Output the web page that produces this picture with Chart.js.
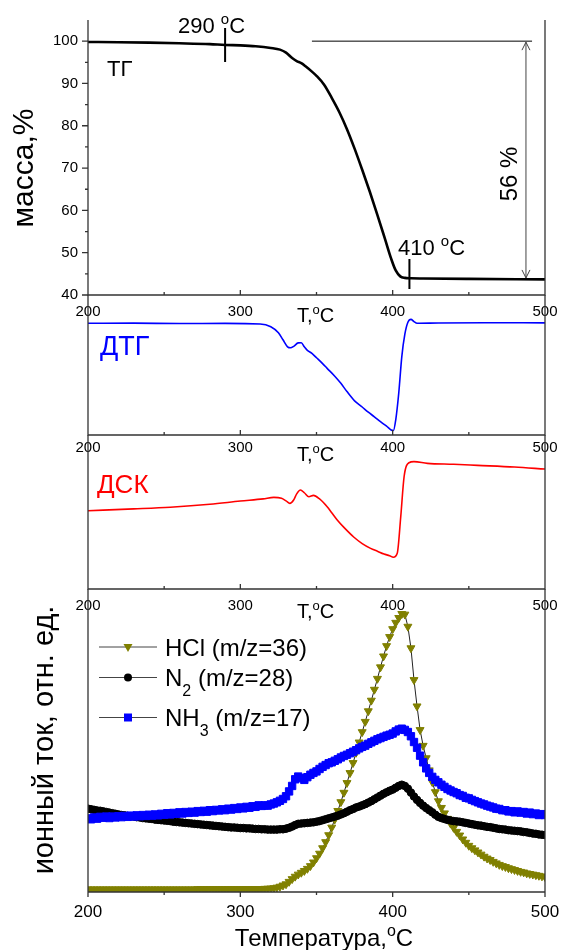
<!DOCTYPE html>
<html lang="ru">
<head>
<meta charset="UTF-8">
<title>ТГ / ДТГ / ДСК / МС</title>
<script src="https://cdn.jsdelivr.net/npm/chart.js@4.4.1/dist/chart.umd.min.js"></script>
<style>
  html, body { margin: 0; padding: 0; background: #fff; }
  #wrap { position: relative; width: 561px; height: 950px; }
  #wrap canvas { position: absolute; left: 0; top: 0; }
</style>
</head>
<body>
<div id="wrap">
  <canvas id="tg" width="561" height="950"></canvas>
  <canvas id="dtg" width="561" height="950"></canvas>
  <canvas id="dsc" width="561" height="950"></canvas>
  <canvas id="ms" width="561" height="950"></canvas>
</div>
<script>
const FONT = '"Liberation Sans", Arial, Helvetica, sans-serif'
const W = 561, H = 950, LEFT = 88, RIGHT = 545

// axis ticks
const xTicks = [200, 300, 400, 500]
const xMinor = [250, 350, 450]
const tgTicks = [40, 50, 60, 70, 80, 90, 100]
const tgMinor = [45, 55, 65, 75, 85, 95]

// TG, mass %
const tgTemp = [200, 220, 240, 260, 280, 290, 300, 310, 320, 326, 330, 334, 337, 340, 343, 347, 350, 355, 360, 365,
  370, 375, 380, 385, 390, 395, 399, 402, 405, 408, 412, 420, 450, 500]
const tgMass = [99.8, 99.75, 99.65, 99.5, 99.3, 99.1, 99.0, 98.8, 98.4, 98.0, 97.3, 96.0, 95.3, 94.8, 94.0, 92.8, 91.8, 89.7, 86.6, 83.2,
  79.2, 74.6, 69.6, 64.4, 58.9, 53.2, 48.6, 45.8, 44.4, 44.05, 43.95, 43.9, 43.8, 43.7]

// DTG, rel. units
const dtgTemp = [200, 230, 260, 290, 313, 320, 325, 328, 331, 333, 335, 338, 340, 342, 344, 347, 350, 354, 357, 362,
  366, 370, 375, 380, 384, 388, 392, 396, 399, 400.5, 402, 404, 406, 408, 410, 412, 414, 416, 430, 460, 500]
const dtgVal = [79.8, 79.9, 79.6, 79.7, 79.3, 77.3, 73, 68, 63, 62.3, 63.3, 65.8, 65.9, 63, 60.5, 58.3, 55.2, 51, 47.6, 42,
  36.9, 31, 24.4, 20, 16.3, 13, 9.5, 6.3, 3.6, 3.2, 10.7, 30, 56, 72, 80.5, 82.6, 81, 79.8, 80, 80.2, 80.1]

// DSC, rel. units
const dscTemp = [200, 230, 254, 280, 300, 315, 322, 327, 330, 332.5, 335, 337, 339.5, 342, 345, 348, 352, 357, 360, 363.6,
  368, 374.6, 380, 385.5, 390, 394.3, 398, 400.4, 403, 405.3, 407.5, 410.7, 414, 422.8, 440, 455.7, 480, 500]
const dscVal = [50.8, 52.0, 53.1, 55.0, 57.1, 58.5, 59.5, 58.9, 57.2, 55.6, 57.8, 61.8, 64.3, 62.5, 59.9, 60.8, 58.5, 53.4, 49.5, 44.8,
  40, 33.6, 29.5, 26.4, 24.5, 22.7, 21.6, 20.6, 23.2, 46.9, 72.9, 82, 82.7, 81.6, 81, 80.3, 79.2, 77.9]

// MS ion current, rel. units (every 2 degC)
const msTemp = [
  200, 202, 204, 206, 208, 210, 212, 214, 216, 218, 220, 222, 224, 226, 228, 230, 232, 234, 236, 238,
  240, 242, 244, 246, 248, 250, 252, 254, 256, 258, 260, 262, 264, 266, 268, 270, 272, 274, 276, 278,
  280, 282, 284, 286, 288, 290, 292, 294, 296, 298, 300, 302, 304, 306, 308, 310, 312, 314, 316, 318,
  320, 322, 324, 326, 328, 330, 332, 334, 336, 338, 340, 342, 344, 346, 348, 350, 352, 354, 356, 358,
  360, 362, 364, 366, 368, 370, 372, 374, 376, 378, 380, 382, 384, 386, 388, 390, 392, 394, 396, 398,
  400, 402, 404, 406, 408, 410, 412, 414, 416, 418, 420, 422, 424, 426, 428, 430, 432, 434, 436, 438,
  440, 442, 444, 446, 448, 450, 452, 454, 456, 458, 460, 462, 464, 466, 468, 470, 472, 474, 476, 478,
  480, 482, 484, 486, 488, 490, 492, 494, 496, 498, 500]
const hclVal = [
  0.9, 0.9, 0.9, 0.9, 0.9, 0.9, 0.9, 0.9, 0.9, 0.9, 0.9, 0.9, 0.9, 0.9, 0.9, 0.9, 0.9, 0.9, 0.9, 0.9,
  0.9, 0.9, 0.9, 0.9, 0.9, 0.9, 0.9, 0.9, 0.9, 0.9, 0.9, 0.9, 0.9, 0.9, 0.9, 0.9, 1.0, 1.0, 1.0, 1.0,
  1.0, 1.0, 1.0, 1.0, 1.0, 1.0, 1.0, 1.0, 1.0, 1.0, 1.0, 1.0, 1.0, 1.0, 1.0, 1.0, 1.0, 1.05, 1.1, 1.15,
  1.2, 1.3, 1.5, 1.8, 2.2, 2.6, 3.4, 4.3, 5.1, 5.8, 6.4, 7.0, 7.7, 8.6, 9.8, 11.2, 12.7, 14.5, 16.5, 18.8,
  21.3, 24.0, 26.8, 29.7, 32.8, 36.0, 39.3, 42.6, 46.0, 49.4, 52.8, 56.2, 59.7, 63.2, 66.8, 70.4, 74.2, 77.8, 81.2, 84.2,
  86.8, 88.9, 90.5, 91.8, 91.6, 87.6, 80.5, 70.0, 61.3, 53.5, 48.3, 44.2, 40.2, 36.3, 33.0, 30.0, 27.8, 26.0, 24.2, 22.6,
  21.2, 19.9, 18.7, 17.4, 16.3, 15.3, 14.5, 13.8, 13.1, 12.4, 11.7, 11.1, 10.6, 10.0, 9.5, 9.0, 8.6, 8.3, 7.9, 7.6,
  7.3, 7.0, 6.7, 6.5, 6.2, 6.0, 5.8, 5.6, 5.4, 5.2, 5.0]
const n2Val = [
  27.5, 27.3, 27.1, 26.9, 26.8, 26.6, 26.4, 26.2, 26.0, 25.8, 25.6, 25.4, 25.3, 25.1, 25.0, 24.9, 24.7, 24.6, 24.4, 24.3,
  24.2, 24.1, 23.9, 23.8, 23.7, 23.6, 23.5, 23.4, 23.2, 23.1, 23.0, 22.9, 22.8, 22.7, 22.6, 22.5, 22.4, 22.3, 22.2, 22.1,
  22.0, 21.9, 21.8, 21.7, 21.6, 21.5, 21.4, 21.3, 21.3, 21.2, 21.1, 21.1, 21.0, 21.0, 20.9, 20.8, 20.8, 20.7, 20.7, 20.6,
  20.6, 20.6, 20.6, 20.7, 20.7, 20.9, 21.2, 21.6, 22.1, 22.5, 22.6, 22.7, 22.8, 22.9, 23.0, 23.2, 23.4, 23.7, 24.0, 24.3,
  24.6, 24.9, 25.2, 25.6, 26.0, 26.5, 27.0, 27.4, 27.9, 28.2, 28.6, 29.0, 29.5, 30.0, 30.6, 31.2, 31.8, 32.4, 32.9, 33.4,
  33.8, 34.4, 35.0, 35.4, 35.0, 34.1, 32.8, 31.5, 30.4, 29.4, 28.5, 27.7, 27.0, 26.3, 25.5, 24.8, 24.4, 24.1, 23.8, 23.6,
  23.4, 23.3, 23.2, 23.0, 22.8, 22.6, 22.4, 22.2, 22.0, 21.9, 21.7, 21.5, 21.4, 21.2, 21.0, 20.8, 20.7, 20.6, 20.4, 20.3,
  20.2, 20.1, 20.0, 19.8, 19.7, 19.5, 19.3, 19.2, 19.0, 18.9, 18.8]
const nh3Val = [
  24.3, 24.0, 24.6, 24.2, 24.8, 24.5, 24.9, 24.4, 24.9, 24.6, 25.0, 24.7, 25.1, 24.8, 25.2, 24.9, 25.3, 25.0, 25.4, 25.1,
  25.5, 25.2, 25.6, 25.3, 25.8, 25.5, 26.0, 25.6, 26.1, 25.8, 26.3, 25.9, 26.4, 26.1, 26.5, 26.2, 26.7, 26.4, 26.8, 26.5,
  27.0, 26.7, 27.1, 26.9, 27.3, 27.0, 27.5, 27.2, 27.7, 27.4, 27.9, 27.6, 28.1, 27.8, 28.3, 28.1, 28.6, 28.4, 28.6, 28.5,
  28.9, 29.2, 29.6, 30.1, 30.7, 31.6, 33.2, 35.0, 37.2, 38.1, 37.6, 37.0, 37.9, 38.7, 39.3, 39.8, 40.6, 41.3, 41.9, 42.5,
  42.8, 43.3, 43.8, 44.4, 44.9, 45.3, 45.8, 46.3, 46.8, 47.4, 47.9, 48.3, 48.9, 49.4, 49.9, 50.4, 50.8, 51.2, 51.6, 51.9,
  52.3, 53.0, 53.6, 53.9, 53.5, 52.8, 51.4, 49.5, 47.6, 45.0, 42.8, 40.8, 39.3, 38.0, 37.0, 36.2, 35.4, 34.7, 34.0, 33.5,
  33.0, 32.6, 32.0, 31.7, 31.1, 30.9, 30.4, 30.0, 29.6, 29.2, 28.9, 28.5, 28.2, 27.9, 27.5, 27.4, 27.0, 27.0, 26.6, 26.7,
  26.3, 26.6, 26.2, 26.4, 25.9, 26.2, 25.7, 25.9, 25.4, 25.7, 25.4]

const pts = (xs, ys) => xs.map((x, i) => ({ x, y: ys[i] }))

// text with sup/sub parts: [[text, ''|'sup'|'sub'], ...]
function rich(ctx, parts, x, y, size, align, color) {
  const sm = Math.round(size * 0.66)
  ctx.textAlign = 'left'
  ctx.textBaseline = 'alphabetic'
  ctx.fillStyle = color || '#000'
  const ws = parts.map(p => { ctx.font = (p[1] ? sm : size) + 'px ' + FONT; return ctx.measureText(p[0]).width })
  const tot = ws.reduce((s, w) => s + w, 0)
  let cx = align === 'center' ? x - tot / 2 : x
  parts.forEach((p, i) => {
    ctx.font = (p[1] ? sm : size) + 'px ' + FONT
    const dy = p[1] === 'sup' ? -size * 0.4 : p[1] === 'sub' ? size * 0.42 : 0
    ctx.fillText(p[0], cx, y + dy)
    cx += ws[i]
  })
}

function vtext(ctx, txt, x, y, size) {
  ctx.save()
  ctx.translate(x, y)
  ctx.rotate(-Math.PI / 2)
  ctx.font = size + 'px ' + FONT
  ctx.fillStyle = '#000'
  ctx.textAlign = 'center'
  ctx.textBaseline = 'alphabetic'
  ctx.fillText(txt, 0, 0)
  ctx.restore()
}

const degC = [['o', 'sup'], ['C', '']]

// left/right/bottom axes, x ticks and labels
function frame(chart, o) {
  const { ctx, chartArea: a, scales: { x } } = chart
  ctx.save()
  ctx.strokeStyle = '#333'
  ctx.lineWidth = 1.3
  ctx.beginPath()
  ctx.moveTo(a.left, a.top)
  ctx.lineTo(a.left, a.bottom)
  ctx.lineTo(a.right, a.bottom)
  ctx.lineTo(a.right, a.top)
  const dir = o.outTicks ? 1 : -1
  xTicks.forEach(v => { const p = x.getPixelForValue(v); ctx.moveTo(p, a.bottom); ctx.lineTo(p, a.bottom + dir * 5) })
  xMinor.forEach(v => { const p = x.getPixelForValue(v); ctx.moveTo(p, a.bottom); ctx.lineTo(p, a.bottom + dir * 3) })
  ctx.stroke()
  ctx.fillStyle = '#000'
  ctx.font = o.tickSize + 'px ' + FONT
  ctx.textAlign = 'center'
  ctx.textBaseline = 'middle'
  xTicks.forEach(v => ctx.fillText(String(v), x.getPixelForValue(v), a.bottom + o.labelGap))
  if (o.titleBase) rich(ctx, [['T,', '']].concat(degC), (a.left + a.right) / 2 - 1, o.titleBase, 20, 'center')
  ctx.restore()
}

function panel(id, top, bottom, yMin, yMax, datasets, deco) {
  return new Chart(document.getElementById(id), {
    type: 'scatter',
    data: { datasets },
    options: {
      responsive: false,
      animation: false,
      events: [],
      layout: { padding: { left: LEFT, right: W - RIGHT, top, bottom: H - bottom } },
      scales: {
        x: { type: 'linear', min: 200, max: 500, display: false },
        y: { type: 'linear', min: yMin, max: yMax, display: false }
      },
      plugins: { legend: { display: false }, tooltip: { enabled: false } }
    },
    plugins: [{ id: 'deco_' + id, afterDraw: deco }]
  })
}

const curve = (data, color, width) => ({
  data, showLine: true, borderColor: color, borderWidth: width,
  pointRadius: 0, cubicInterpolationMode: 'monotone'
})

// ---- ТГ
panel('tg', 20, 295, 40, 105, [curve(pts(tgTemp, tgMass), '#000', 2.6)], chart => {
  const { ctx, chartArea: a, scales: { x, y } } = chart
  frame(chart, { tickSize: 15, labelGap: 17, titleBase: 322 })
  ctx.save()
  ctx.strokeStyle = '#333'
  ctx.lineWidth = 1.3
  ctx.beginPath()
  tgTicks.forEach(v => { const p = y.getPixelForValue(v); ctx.moveTo(a.left, p); ctx.lineTo(a.left - 6, p) })
  tgMinor.forEach(v => { const p = y.getPixelForValue(v); ctx.moveTo(a.left, p); ctx.lineTo(a.left - 3, p) })
  ctx.stroke()
  ctx.fillStyle = '#000'
  ctx.font = '15px ' + FONT
  ctx.textAlign = 'right'
  ctx.textBaseline = 'middle'
  tgTicks.forEach(v => ctx.fillText(String(v), a.left - 10, y.getPixelForValue(v)))
  vtext(ctx, 'масса,%', 33, 168, 30)
  rich(ctx, [['ТГ', '']], 107, 76, 22)

  // onset / end markers
  ctx.strokeStyle = '#000'
  ctx.lineWidth = 2
  ctx.beginPath()
  const p290 = x.getPixelForValue(290), p410 = x.getPixelForValue(411)
  ctx.moveTo(p290, 28); ctx.lineTo(p290, 62)
  ctx.moveTo(p410, 259); ctx.lineTo(p410, 289)
  ctx.stroke()
  rich(ctx, [['290 ', '']].concat(degC), 178, 33, 22)
  rich(ctx, [['410 ', '']].concat(degC), 398, 255, 22)

  // mass loss bracket
  const y100 = y.getPixelForValue(100), yEnd = y.getPixelForValue(43.8)
  const ax = x.getPixelForValue(487.5)
  ctx.lineWidth = 1
  ctx.strokeStyle = '#000'
  ctx.beginPath()
  ctx.moveTo(x.getPixelForValue(347), y100); ctx.lineTo(x.getPixelForValue(491.5), y100)
  ctx.stroke()
  ctx.strokeStyle = '#444'
  ctx.beginPath()
  ctx.moveTo(ax, y100 + 1); ctx.lineTo(ax, yEnd - 1)
  ctx.moveTo(ax - 4, y100 + 9); ctx.lineTo(ax, y100 + 1); ctx.lineTo(ax + 4, y100 + 9)
  ctx.moveTo(ax - 4, yEnd - 9); ctx.lineTo(ax, yEnd - 1); ctx.lineTo(ax + 4, yEnd - 9)
  ctx.stroke()
  vtext(ctx, '56 %', 517, 174, 24)
  ctx.restore()
})

// ---- ДТГ
panel('dtg', 295, 435, 0, 100, [curve(pts(dtgTemp, dtgVal), '#0000ff', 1.6)], chart => {
  frame(chart, { tickSize: 15, labelGap: 13, titleBase: 461 })
  rich(chart.ctx, [['ДТГ', '']], 100, 355, 27, 'left', '#0000ff')
})

// ---- ДСК
panel('dsc', 435, 589, 0, 100, [curve(pts(dscTemp, dscVal), '#ff0000', 1.6)], chart => {
  frame(chart, { tickSize: 15, labelGap: 16.5, titleBase: 618 })
  rich(chart.ctx, [['ДСК', '']], 97, 493, 26, 'left', '#ff0000')
})

// ---- ion current
const msSeries = [
  { label: 'HCl (m/z=36)', parts: [['HCl (m/z=36)', '']], vals: hclVal, color: '#808000', style: 'triangle', rot: 180, r: 4.6, order: 3, ly: 647 },
  { label: 'N2 (m/z=28)', parts: [['N', ''], ['2', 'sub'], [' (m/z=28)', '']], vals: n2Val, color: '#000000', style: 'circle', rot: 0, r: 3.8, order: 2, ly: 677.5 },
  { label: 'NH3 (m/z=17)', parts: [['NH', ''], ['3', 'sub'], [' (m/z=17)', '']], vals: nh3Val, color: '#0000ff', style: 'rect', rot: 0, r: 5.2, order: 1, ly: 717.5 }
]

panel('ms', 589, 892, 0, 100, msSeries.map(s => ({
  label: s.label,
  data: pts(msTemp, s.vals),
  showLine: true,
  borderColor: '#222',
  borderWidth: 1,
  pointStyle: s.style,
  rotation: s.rot,
  pointRadius: s.r,
  pointBackgroundColor: s.color,
  pointBorderColor: s.color,
  pointBorderWidth: 1,
  clip: 0,
  order: s.order
})), chart => {
  const { ctx } = chart
  frame(chart, { tickSize: 17, labelGap: 20, outTicks: true })
  vtext(ctx, 'ионный ток, отн. ед.', 53, 740, 29)
  rich(ctx, [['Температура,', '']].concat(degC), 324, 946, 24, 'center')
  // legend
  ctx.save()
  msSeries.forEach(s => {
    ctx.strokeStyle = '#444'
    ctx.lineWidth = 1
    ctx.beginPath()
    ctx.moveTo(99, s.ly); ctx.lineTo(157, s.ly)
    ctx.stroke()
    ctx.fillStyle = s.color
    ctx.beginPath()
    if (s.style === 'triangle') {
      ctx.moveTo(128 - 4.5, s.ly - 3); ctx.lineTo(128 + 4.5, s.ly - 3); ctx.lineTo(128, s.ly + 5)
    } else if (s.style === 'circle') {
      ctx.arc(128, s.ly, 4, 0, Math.PI * 2)
    } else {
      ctx.rect(128 - 4, s.ly - 4, 8, 8)
    }
    ctx.fill()
    rich(ctx, s.parts, 165, s.ly + 8.5, 24)
  })
  ctx.restore()
})
</script>
</body>
</html>
